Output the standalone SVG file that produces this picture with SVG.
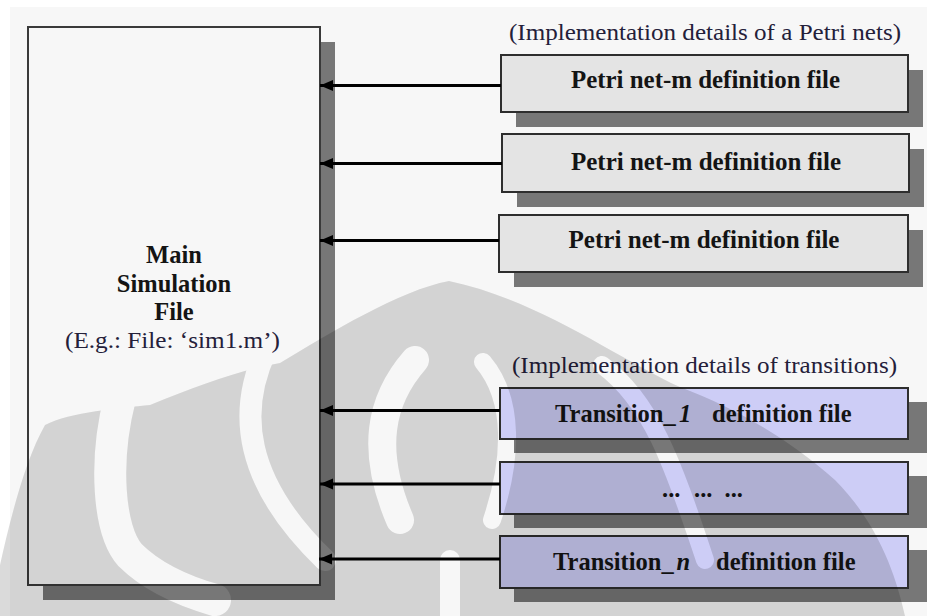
<svg xmlns="http://www.w3.org/2000/svg" width="927" height="616" viewBox="0 0 927 616">
  <style>
    .shadow { fill: #777777; }
    .box { stroke: #2e2e2e; stroke-width: 2; }
    .main { fill: #f7f7f7; stroke: #3a3a3a; stroke-width: 2; }
    .petri { fill: #e4e4e4; }
    .trans { fill: #cdcdf6; }
    .lbl { font-family: "Liberation Serif", "Times New Roman", serif; font-size: 24.5px; font-weight: bold; fill: #141414; }
    .note { font-family: "Liberation Serif", "Times New Roman", serif; font-size: 23px; fill: #24203a; }
    .it { font-style: italic; }
    .conn line { stroke: #000; stroke-width: 3; marker-end: url(#head); }
  </style>
  <defs>
    <marker id="head" markerUnits="userSpaceOnUse" markerWidth="14" markerHeight="12" refX="13" refY="6" orient="auto">
      <path d="M0,0.5 L13,6 L0,11.5 Z" fill="#000"/>
    </marker>
    <!-- background emblem: lobes in white, separating stripes in black -->
    <mask id="emblem" maskUnits="userSpaceOnUse" x="0" y="0" width="927" height="616">
      <path fill="#fff" d="M0,565 C10,520 25,460 45,425 C70,412 120,408 150,405 C200,385 240,370 280,363 C330,333 400,290 449,281 C540,300 620,360 680,387 C740,410 790,440 835,480 C875,520 895,570 905,616 L0,616 Z"/>
      <g fill="none" stroke="#000" stroke-linecap="round">
        <path d="M120,398 C104,460 108,530 130,555 C150,575 180,590 215,600" stroke-width="32"/>
        <path d="M266,350 C238,410 242,480 325,560" stroke-width="22"/>
        <path d="M415,360 C380,400 370,450 400,520" stroke-width="28"/>
        <path d="M483,362 C515,400 512,460 492,520" stroke-width="18"/>
        <path d="M602,365 C650,400 672,460 705,560" stroke-width="18"/>
        <path d="M450,560 L450,616" stroke-width="20"/>
      </g>
    </mask>
  </defs>

  <!-- page -->
  <rect x="0" y="0" width="927" height="616" fill="#ffffff"/>
  <rect x="10" y="7" width="917" height="609" fill="#f7f7f7"/>

  <!-- main simulation file -->
  <g id="main-file">
    <rect class="shadow" x="43" y="42" width="292" height="558"/>
    <rect class="main" x="28" y="27" width="292" height="558"/>
    <text class="lbl" x="174" y="263" text-anchor="middle">Main</text>
    <text class="lbl" x="174" y="291.5" text-anchor="middle">Simulation</text>
    <text class="lbl" x="174" y="320" text-anchor="middle">File</text>
    <text class="note" x="65" y="348" textLength="215" lengthAdjust="spacingAndGlyphs" style="font-size:24px">(E.g.: File: ‘sim1.m’)</text>
  </g>

  <!-- section headings -->
  <g id="petri-heading">
    <text class="note" x="509" y="40" textLength="392" lengthAdjust="spacingAndGlyphs">(Implementation details of a Petri nets)</text>
  </g>
  <g id="transition-heading">
    <text class="note" x="512" y="373" textLength="385" lengthAdjust="spacingAndGlyphs">(Implementation details of transitions)</text>
  </g>

  <!-- Petri net definition files -->
  <g id="petri-1">
    <rect class="shadow" x="516" y="70" width="407" height="57"/>
    <rect class="box petri" x="501" y="55" width="407" height="57"/>
    <text class="lbl" x="571" y="87.5" textLength="269" lengthAdjust="spacingAndGlyphs">Petri net-m definition file</text>
  </g>
  <g id="petri-2">
    <rect class="shadow" x="517" y="149" width="407" height="58"/>
    <rect class="box petri" x="502" y="134" width="407" height="58"/>
    <text class="lbl" x="571" y="170" textLength="270" lengthAdjust="spacingAndGlyphs">Petri net-m definition file</text>
  </g>
  <g id="petri-3">
    <rect class="shadow" x="514" y="230" width="409" height="57"/>
    <rect class="box petri" x="499" y="215" width="409" height="57"/>
    <text class="lbl" x="568.5" y="248" textLength="271" lengthAdjust="spacingAndGlyphs">Petri net-m definition file</text>
  </g>

  <!-- transition definition files -->
  <g id="transition-1">
    <rect class="shadow" x="514" y="402" width="413" height="51"/>
    <rect class="box trans" x="500" y="388" width="408" height="51"/>
    <text class="lbl" x="555" y="421.5">Transition_<tspan class="it" x="679">1</tspan><tspan x="712">definition file</tspan></text>
  </g>
  <g id="transition-more">
    <rect class="shadow" x="514" y="476" width="413" height="52"/>
    <rect class="box trans" x="500" y="462" width="408" height="52"/>
    <text class="lbl" y="497"><tspan x="662">...</tspan><tspan x="694">...</tspan><tspan x="724.5">...</tspan></text>
  </g>
  <g id="transition-n">
    <rect class="shadow" x="514" y="550" width="413" height="52"/>
    <rect class="box trans" x="500" y="536" width="408" height="52"/>
    <text class="lbl" x="553" y="569.5">Transition_<tspan class="it" x="676.5">n</tspan><tspan x="716">definition file</tspan></text>
  </g>

  <!-- connectors: every definition file feeds the main file -->
  <g id="connectors" class="conn">
    <line x1="501" y1="85.5" x2="320" y2="85.5"/>
    <line x1="502" y1="163.5" x2="320" y2="163.5"/>
    <line x1="499" y1="240.5" x2="320" y2="240.5"/>
    <line x1="500" y1="410.5" x2="320" y2="410.5"/>
    <line x1="500" y1="484" x2="320" y2="484"/>
    <line x1="500" y1="559" x2="319" y2="559"/>
  </g>

  <!-- faint emblem printed over the page -->
  <rect x="0" y="0" width="927" height="616" fill="#000" opacity="0.14" mask="url(#emblem)"/>
</svg>
